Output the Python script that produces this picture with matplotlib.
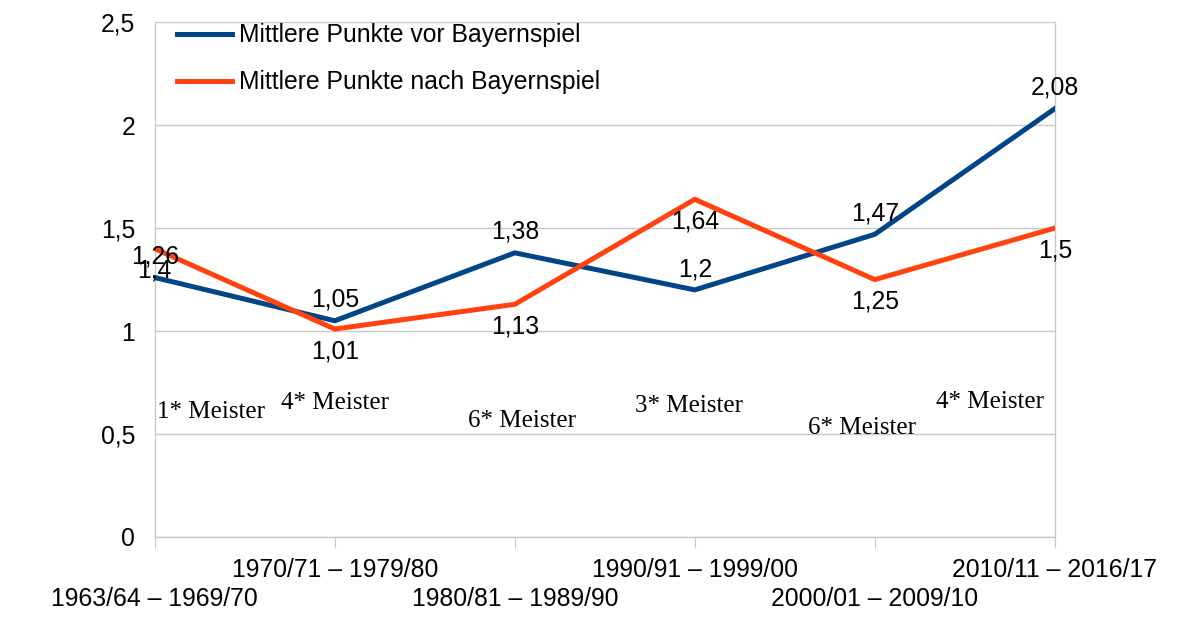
import matplotlib
matplotlib.use("Agg")
import matplotlib.pyplot as plt

periods = ["1963/64 – 1969/70", "1970/71 – 1979/80", "1980/81 – 1989/90",
           "1990/91 – 1999/00", "2000/01 – 2009/10", "2010/11 – 2016/17"]
vor = [1.26, 1.05, 1.38, 1.2, 1.47, 2.08]
nach = [1.4, 1.01, 1.13, 1.64, 1.25, 1.5]
meister = ["1* Meister", "4* Meister", "6* Meister", "3* Meister", "6* Meister", "4* Meister"]

# where the "Meister" notes sit (data coords)
meister_pos = [(0.31, 0.605), (1.0, 0.65), (2.04, 0.565), (2.97, 0.635), (3.93, 0.53), (4.64, 0.655)]

blue = "#004586"
orange = "#ff420e"
grid = "#c8c8c8"
fs = 17.8

plt.rcParams['font.family'] = ['Liberation Sans', 'DejaVu Sans']

fig = plt.figure(figsize=(12, 6.34), dpi=100)
ax = fig.add_axes([0.129, 0.153, 0.75, 0.812])

x = list(range(len(periods)))
ax.plot(x, vor, color=blue, lw=3.6, label="Mittlere Punkte vor Bayernspiel", solid_joinstyle='miter', zorder=3)
ax.plot(x, nach, color=orange, lw=3.6, label="Mittlere Punkte nach Bayernspiel", solid_joinstyle='miter', zorder=3)

for xi, v in zip(x, vor):
    ax.annotate(f"{v:g}".replace(".", ","), (xi, v), xytext=(0, 15), textcoords="offset points",
                ha="center", va="center", fontsize=fs)
for xi, v in zip(x, nach):
    ax.annotate(f"{v:g}".replace(".", ","), (xi, v), xytext=(0, -16), textcoords="offset points",
                ha="center", va="center", fontsize=fs)

for txt, (mx, my) in zip(meister, meister_pos):
    ax.text(mx, my, txt, ha="center", va="center", fontsize=18, family=["Liberation Serif", "DejaVu Serif"])

ax.set_xlim(0, len(periods) - 1)
ax.set_ylim(0, 2.5)
ax.set_yticks([0, 0.5, 1, 1.5, 2, 2.5])
ax.set_yticklabels(["0", "0,5", "1", "1,5", "2", "2,5"], fontsize=fs)
ax.yaxis.grid(True, color=grid, lw=1)
ax.set_axisbelow(True)
ax.tick_params(axis="y", length=0, pad=14)

ax.set_xticks(x)
ax.set_xticklabels([])
ax.tick_params(axis="x", length=8, color=grid, direction="out")
for i, lab in enumerate(periods):
    off = -45 if i % 2 == 0 else -23.5
    ax.annotate(lab, (i, 0), xycoords=("data", "axes fraction"), xytext=(0, off),
                textcoords="offset points", ha="center", va="center", fontsize=fs, annotation_clip=False)

ax.spines["top"].set_visible(False)
for side in ["left", "right", "bottom"]:
    ax.spines[side].set_color(grid)
    ax.spines[side].set_linewidth(1)

ax.legend(loc="upper left", frameon=False, fontsize=fs, handlelength=2.2, handletextpad=0.3,
          labelspacing=0.93, bbox_to_anchor=(0.014, 1.017), borderaxespad=0)

fig.savefig("out.png", dpi=100)
